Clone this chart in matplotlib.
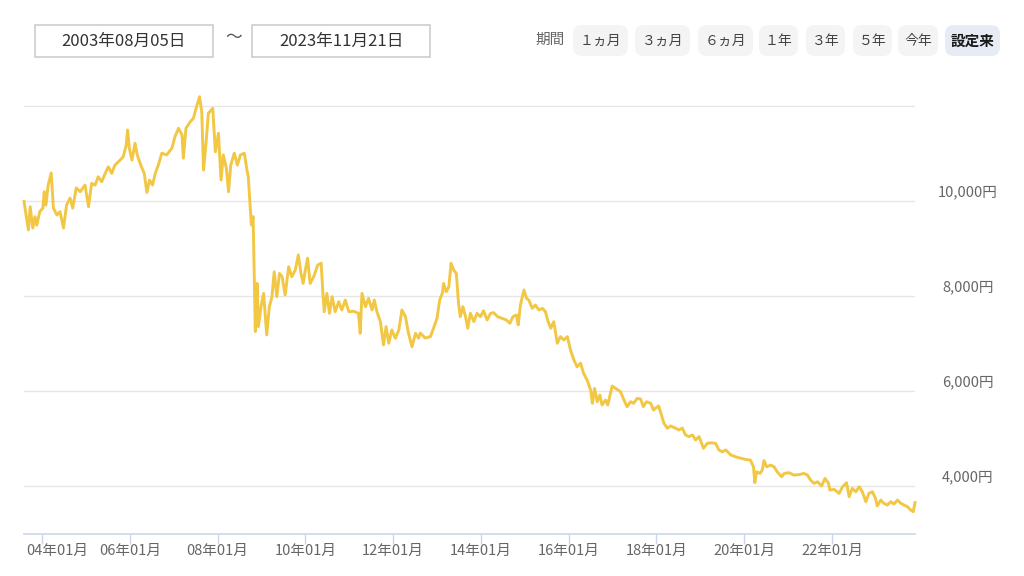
# %%
import matplotlib
matplotlib.use("Agg")
import matplotlib.pyplot as plt
import matplotlib.transforms as mtransforms
from matplotlib.patches import FancyBboxPatch

plt.rcParams["font.family"] = ["Noto Sans CJK JP", "DejaVu Sans"]

# %%
## Data
years = [
    2003.59, 2003.69, 2003.73, 2003.79, 2003.84, 2003.88, 2003.95, 2004.02, 2004.05, 2004.09,
    2004.14, 2004.21, 2004.26, 2004.34, 2004.41, 2004.49, 2004.56, 2004.64, 2004.70, 2004.78,
    2004.87, 2004.98, 2005.06, 2005.13, 2005.21, 2005.28, 2005.36, 2005.44, 2005.51, 2005.59,
    2005.66, 2005.78, 2005.85, 2005.92, 2005.95, 2005.99, 2006.05, 2006.12, 2006.17, 2006.25,
    2006.33, 2006.39, 2006.45, 2006.52, 2006.58, 2006.65, 2006.73, 2006.84, 2006.96, 2007.03,
    2007.11, 2007.19, 2007.22, 2007.28, 2007.38, 2007.45, 2007.51, 2007.59, 2007.64, 2007.68,
    2007.74, 2007.79, 2007.89, 2007.95, 2008.02, 2008.08, 2008.13, 2008.20, 2008.25, 2008.30,
    2008.38, 2008.45, 2008.52, 2008.61, 2008.67, 2008.70, 2008.74, 2008.77, 2008.81, 2008.83,
    2008.86, 2008.90, 2008.93, 2008.99, 2009.05, 2009.12, 2009.18, 2009.24, 2009.29, 2009.35,
    2009.41, 2009.47, 2009.54, 2009.62, 2009.69, 2009.77, 2009.84, 2009.90, 2009.95, 2010.00,
    2010.05, 2010.11, 2010.19, 2010.28, 2010.36, 2010.40, 2010.43, 2010.49, 2010.55, 2010.61,
    2010.68, 2010.76, 2010.83, 2010.91, 2010.99, 2011.10, 2011.21, 2011.25, 2011.29, 2011.37,
    2011.44, 2011.52, 2011.57, 2011.63, 2011.71, 2011.78, 2011.84, 2011.90, 2011.97, 2012.05,
    2012.13, 2012.20, 2012.28, 2012.35, 2012.43, 2012.51, 2012.58, 2012.62, 2012.73, 2012.85,
    2012.92, 2013.00, 2013.06, 2013.12, 2013.15, 2013.21, 2013.27, 2013.32, 2013.38, 2013.44,
    2013.49, 2013.53, 2013.59, 2013.65, 2013.70, 2013.76, 2013.84, 2013.91, 2013.99, 2014.06,
    2014.14, 2014.22, 2014.29, 2014.38, 2014.48, 2014.58, 2014.66, 2014.73, 2014.81, 2014.85,
    2014.90, 2014.98, 2015.04, 2015.09, 2015.17, 2015.24, 2015.32, 2015.40, 2015.47, 2015.52,
    2015.59, 2015.66, 2015.74, 2015.81, 2015.89, 2015.97, 2016.04, 2016.12, 2016.19, 2016.27,
    2016.34, 2016.42, 2016.50, 2016.54, 2016.59, 2016.65, 2016.71, 2016.76, 2016.84, 2016.89,
    2016.99, 2017.07, 2017.18, 2017.26, 2017.33, 2017.41, 2017.48, 2017.56, 2017.64, 2017.70,
    2017.77, 2017.87, 2017.93, 2018.00, 2018.05, 2018.09, 2018.17, 2018.25, 2018.32, 2018.44,
    2018.51, 2018.59, 2018.66, 2018.74, 2018.82, 2018.89, 2018.97, 2019.07, 2019.16, 2019.27,
    2019.35, 2019.42, 2019.50, 2019.58, 2019.69, 2019.80, 2019.92, 2020.03, 2020.14, 2020.21,
    2020.24, 2020.28, 2020.36, 2020.41, 2020.45, 2020.51, 2020.60, 2020.68, 2020.75, 2020.85,
    2020.91, 2021.02, 2021.13, 2021.25, 2021.36, 2021.44, 2021.51, 2021.59, 2021.67, 2021.76,
    2021.84, 2021.92, 2021.95, 2022.05, 2022.16, 2022.24, 2022.33, 2022.39, 2022.46, 2022.54,
    2022.62, 2022.69, 2022.77, 2022.84, 2022.92, 2022.99, 2023.03, 2023.11, 2023.18, 2023.26,
    2023.34, 2023.41, 2023.49, 2023.57, 2023.64, 2023.72, 2023.79, 2023.85, 2023.89,
]
prices = [
    9990, 9390, 9880, 9430, 9670, 9490, 9775, 9850, 10195, 9915,
    10335, 10590, 9850, 9705, 9775, 9430, 9915, 10060, 9850, 10275,
    10195, 10335, 9880, 10370, 10335, 10510, 10405, 10580, 10720, 10580,
    10755, 10860, 10930, 11180, 11495, 11110, 10860, 11215, 10970, 10755,
    10580, 10180, 10440, 10335, 10580, 10755, 11005, 10970, 11110, 11355,
    11530, 11390, 10900, 11530, 11670, 11740, 11950, 12195, 11880, 10650,
    11250, 11845, 11950, 11035, 11425, 10440, 10970, 10690, 10195, 10755,
    11005, 10755, 10970, 11005, 10650, 10510, 9950, 9495, 9670, 8690,
    7250, 8265, 7355, 7775, 8055, 7180, 7775, 7985, 8510, 7985,
    8475, 8405, 8020, 8615, 8405, 8545, 8865, 8475, 8265, 8545,
    8795, 8265, 8405, 8650, 8690, 8055, 7670, 8055, 7635, 7985,
    7670, 7880, 7705, 7915, 7670, 7680, 7635, 7215, 8055, 7775,
    7950, 7705, 7915, 7670, 7460, 6970, 7355, 7005, 7285, 7110,
    7285, 7705, 7565, 7215, 6930, 7215, 7110, 7220, 7115, 7145,
    7320, 7530, 7915, 8055, 8265, 8090, 8195, 8690, 8545, 8475,
    7845, 7565, 7775, 7565, 7320, 7635, 7460, 7635, 7565, 7690,
    7495, 7635, 7650, 7565, 7530, 7495, 7425, 7565, 7600, 7390,
    7810, 8125, 7950, 7915, 7740, 7810, 7705, 7740, 7670, 7495,
    7320, 7460, 7005, 7145, 7075, 7145, 6865, 6650, 6510, 6585,
    6370, 6230, 6020, 5740, 6055, 5775, 5915, 5705, 5810, 5705,
    6105, 6055, 5985, 5810, 5670, 5775, 5740, 5845, 5830, 5670,
    5775, 5740, 5600, 5655, 5685, 5565, 5320, 5215, 5265, 5215,
    5180, 5220, 5075, 5040, 5075, 4970, 5040, 4795, 4900, 4910,
    4895, 4760, 4720, 4760, 4655, 4615, 4585, 4560, 4545, 4405,
    4070, 4300, 4265, 4335, 4535, 4405, 4440, 4405, 4300, 4195,
    4265, 4280, 4230, 4240, 4265, 4230, 4125, 4055, 4090, 4000,
    4160, 4055, 3915, 3930, 3845, 3985, 4070, 3775, 3950, 3880,
    3985, 3880, 3670, 3845, 3880, 3740, 3580, 3705, 3635, 3600,
    3670, 3620, 3705, 3635, 3600, 3565, 3495, 3460, 3650,
]

tick_years = [2004, 2006, 2008, 2010, 2012, 2014, 2016, 2018, 2020, 2022]
tick_labels = ["04年01月", "06年01月", "08年01月", "10年01月", "12年01月",
               "14年01月", "16年01月", "18年01月", "20年01月", "22年01月"]
grid_values = [4000, 6000, 8000, 10000, 12000]
label_values = [4000, 6000, 8000, 10000]

start_label = "2003年08月05日"
end_label = "2023年11月21日"
periods = ["１ヵ月", "３ヵ月", "６ヵ月", "１年", "３年", "５年", "今年", "設定来"]

# %%
W, H = 1024, 576
fig = plt.figure(figsize=(W / 100, H / 100), dpi=100)
px = mtransforms.Affine2D().scale(1 / fig.dpi) + fig.dpi_scale_trans


def box(x0, y0, x1, y1, fc, ec, r):
    style = f"round,pad=0,rounding_size={r}" if r else "square,pad=0"
    fig.add_artist(FancyBboxPatch((x0, H - y1), x1 - x0, y1 - y0, boxstyle=style,
                                  fc=fc, ec=ec, lw=1.1, transform=px))


def label(x, y, s, **kw):
    fig.text(x, H - y, s, transform=px, ha="center", va="center", **kw)


# header: date range
box(35, 25, 213, 57, "white", "#c9c9c9", 0)
box(252, 25, 430, 57, "white", "#c9c9c9", 0)
label(124, 41, start_label, fontsize=12, color="#333333")
label(341, 41, end_label, fontsize=12, color="#333333")
label(234, 38, "〜", fontsize=12, color="#555555")

# header: period buttons
label(550, 40, "期間", fontsize=10.5, color="#666666")
btn_x = [(573, 628), (635, 690), (698, 753), (759, 798), (806, 845),
         (853, 892), (898, 938), (945, 1000)]
for (x0, x1), name in zip(btn_x, periods):
    active = name == "設定来"
    box(x0, 25, x1, 56, "#e7ebf3" if active else "#f4f4f4", "none", 9)
    label((x0 + x1) / 2, 40.5, name, fontsize=10.5 if active else 10,
          color="#1a1a1a" if active else "#444444",
          fontweight="bold" if active else "normal")

# %%
ax = fig.add_axes([24 / W, 1 - 534 / H, (915 - 24) / W, (534 - 90) / H])
ax.plot(years, prices, color="#f2c744", lw=2.1, solid_joinstyle="round", clip_on=False)
ax.set_xlim(years[0], years[-1])
ax.set_ylim(2990, 12336)

ax.set_yticks(grid_values)
ax.grid(axis="y", color="#e6e6e6", lw=1)
ax.set_axisbelow(True)
ax.tick_params(axis="y", length=0, labelleft=False)
ax.set_xticks(tick_years)
ax.tick_params(axis="x", length=7.5, width=1, color="#ccd6eb", labelbottom=False)
for s in ["top", "left", "right"]:
    ax.spines[s].set_visible(False)
ax.spines["bottom"].set_color("#ccd6eb")
ax.spines["bottom"].set_linewidth(1.2)

for v in label_values:
    ax.annotate(f"{v:,}円", xy=((968 - 24) / (915 - 24), v), xycoords=("axes fraction", "data"),
                xytext=(0, 6), textcoords="offset points", ha="center", va="center",
                fontsize=10.5, color="#666666")

for i, (t, s) in enumerate(zip(tick_years, tick_labels)):
    if i == 0:
        xy, ha, dx = (years[0], 0), "left", 1.5
    else:
        xy, ha, dx = (t, 0), "center", 0
    ax.annotate(s, xy=xy, xycoords=("data", "axes fraction"), xytext=(dx, -12.5),
                textcoords="offset points", ha=ha, va="center", fontsize=10.5, color="#666666")

fig.savefig("out.png", dpi=100)
